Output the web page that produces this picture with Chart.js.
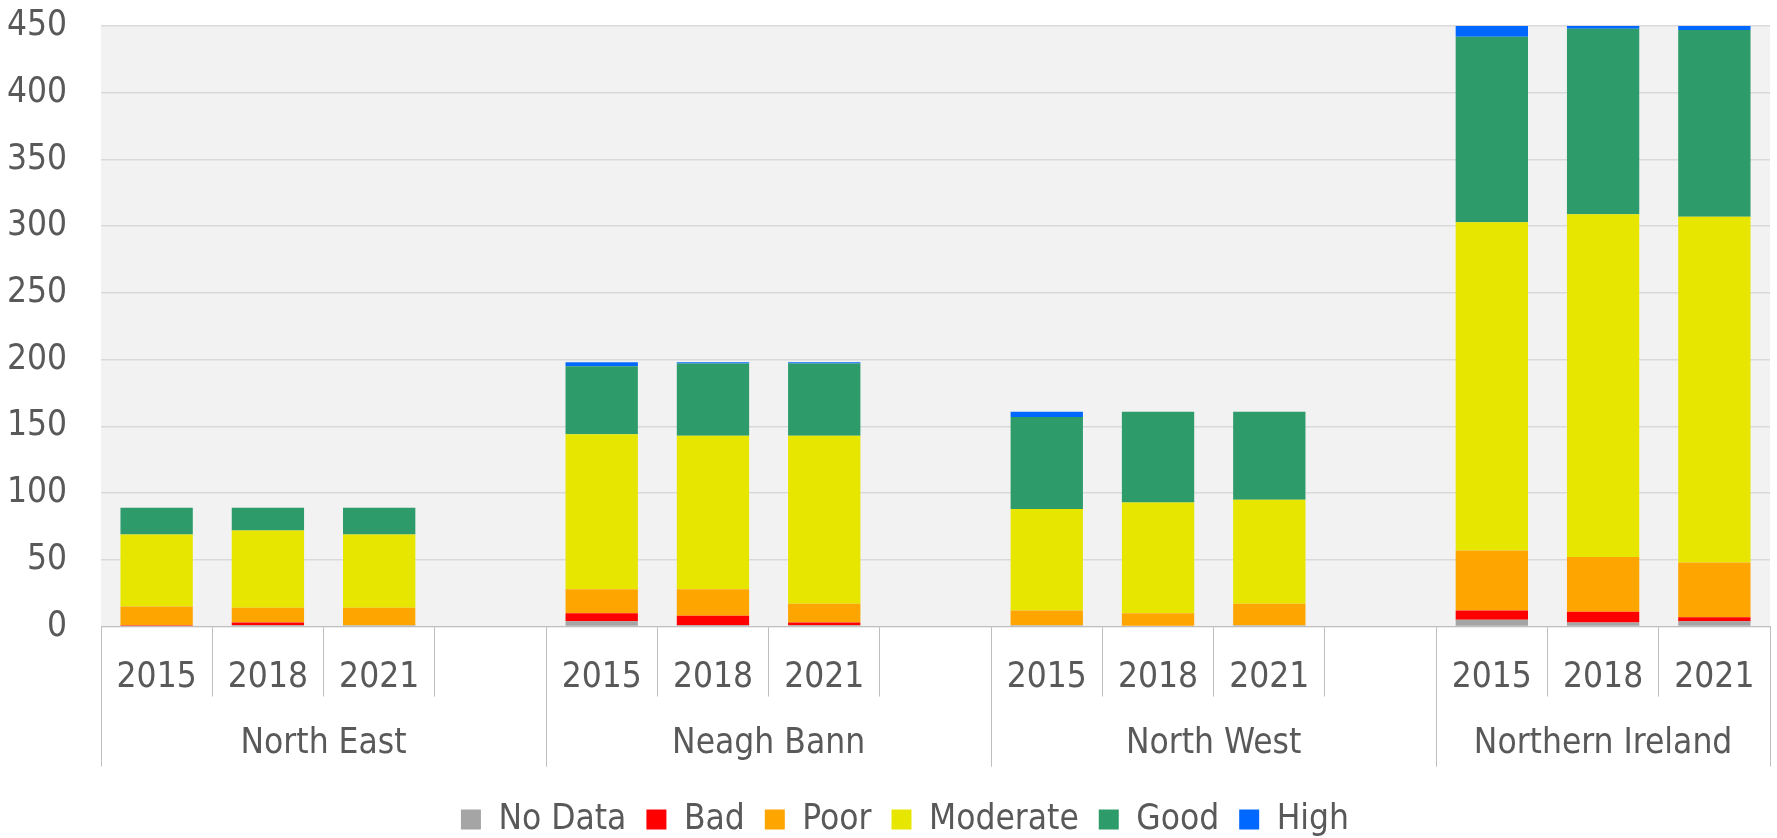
<!DOCTYPE html>
<html>
<head>
<meta charset="utf-8">
<script src="https://cdn.jsdelivr.net/npm/chart.js@4/dist/chart.umd.min.js"></script>
<style>
  html, body { margin: 0; padding: 0; background: #ffffff; }
  #wrap { width: 1777px; height: 838px; position: relative; }
</style>
</head>
<body>
<div id="wrap"><canvas id="c"></canvas></div>
<script>
// ---- data ----
const categories = ['2015', '2018', '2021', '', '2015', '2018', '2021', '', '2015', '2018', '2021', '', '2015', '2018', '2021'];
const groups = ['North East', 'Neagh Bann', 'North West', 'Northern Ireland'];
const groupSizes = [4, 4, 4, 3];
const yTicks = [0, 50, 100, 150, 200, 250, 300, 350, 400, 450];

const noData   = [0, 1, 1, null,   4,   1,   1, null,  1,  0,  1, null,   5,   3,   4];
const bad      = [1, 2, 0, null,   6,   7,   2, null,  0,  0,  0, null,   7,   8,   3];
const poor     = [14, 11, 13, null, 18, 20, 14, null, 11, 10, 16, null,  45,  41,  41];
const moderate = [54, 58, 55, null, 116, 115, 126, null, 76, 83, 78, null, 246, 257, 259];
const good     = [20, 17, 20, null, 51, 54, 54, null, 69, 68, 66, null, 139, 139, 140];
const high     = [0, 0, 0, null,   3,   1,   1, null,  4,  0,  0, null,   8,   2,   3];

const FONT = "Tahoma, 'DejaVu Sans Condensed', 'DejaVu Sans', sans-serif";
const TXT = '#595959';

const groupPlugin = {
  id: 'groupLabels',
  afterLayout(chart) {
    if (chart.legend) { chart.legend.left += 20; chart.legend.right += 20; }
  },
  beforeDraw(chart) {
    const { ctx, chartArea } = chart;
    ctx.save();
    ctx.fillStyle = '#f2f2f2';
    ctx.fillRect(chartArea.left, chartArea.top, chartArea.right - chartArea.left, chartArea.bottom - chartArea.top);
    ctx.restore();
  },
  afterDraw(chart) {
    const { ctx } = chart;
    const x = chart.scales.x;
    const half = (x.getPixelForValue(1) - x.getPixelForValue(0)) / 2;
    const top = x.top;
    ctx.save();
    ctx.strokeStyle = '#bfbfbf';
    ctx.lineWidth = 1;
    ctx.fillStyle = TXT;
    ctx.font = '35px ' + FONT;
    ctx.textAlign = 'center';
    ctx.textBaseline = 'middle';
    let start = 0;
    groups.forEach((g, i) => {
      const l = x.getPixelForValue(start) - half;
      const r = x.getPixelForValue(start + groupSizes[i] - 1) + half;
      [l, r].forEach(px => {
        const p = Math.round(px) + 0.5;
        ctx.beginPath();
        ctx.moveTo(p, top);
        ctx.lineTo(p, top + 140);
        ctx.stroke();
      });
      ctx.fillText(g, (l + r) / 2, top + 117);
      start += groupSizes[i];
    });
    ctx.restore();
  }
};

const mk = (label, data, color) => ({
  label, data, backgroundColor: color, borderWidth: 0,
  barPercentage: 0.65, categoryPercentage: 1.0
});

new Chart(document.getElementById('c'), {
  type: 'bar',
  data: {
    labels: categories,
    datasets: [
      mk('No Data', noData, '#a5a5a5'),
      mk('Bad', bad, '#ff0000'),
      mk('Poor', poor, '#ffa500'),
      mk('Moderate', moderate, '#e6e600'),
      mk('Good', good, '#2e9b6a'),
      mk('High', high, '#0068ff')
    ]
  },
  options: {
    responsive: true,
    maintainAspectRatio: false,
    animation: false,
    layout: { padding: { top: 0, right: 7, left: 0, bottom: -9 } },
    plugins: {
      tooltip: { enabled: false },
      legend: {
        position: 'bottom',
        labels: {
          font: { family: FONT, size: 35 },
          color: TXT,
          boxWidth: 20,
          boxHeight: 20,
          padding: 20
        }
      }
    },
    scales: {
      x: {
        stacked: true,
        offset: true,
        afterFit: (s) => { s.height = 155.5; },
        border: { display: true, color: '#bfbfbf', width: 1 },
        grid: {
          display: true, drawOnChartArea: false, drawTicks: true,
          tickLength: 70, color: '#bfbfbf', tickColor: '#bfbfbf', offset: true
        },
        ticks: {
          font: { family: FONT, size: 35 }, color: TXT,
          padding: -40, maxRotation: 0, autoSkip: false
        }
      },
      y: {
        stacked: true,
        min: 0, max: 450,
        afterFit: (s) => { s.width = 101; },
        afterBuildTicks: (s) => { s.ticks = yTicks.map(v => ({ value: v })); },
        border: { display: false },
        grid: { color: '#d9d9d9', lineWidth: 1.5, drawTicks: true, tickLength: 29, tickColor: 'rgba(0,0,0,0)' },
        ticks: { font: { family: FONT, size: 35 }, color: TXT, padding: 5 }
      }
    }
  },
  plugins: [groupPlugin]
});
</script>
</body>
</html>
